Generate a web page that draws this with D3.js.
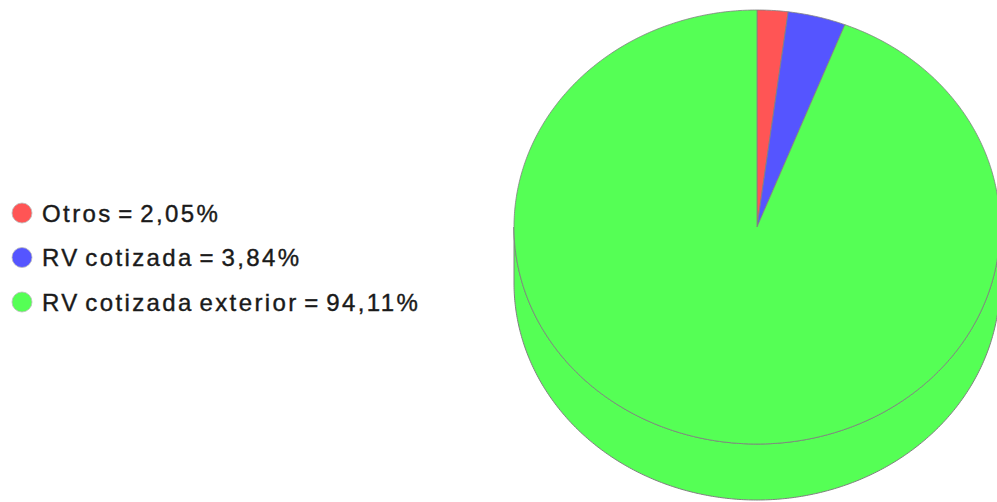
<!DOCTYPE html>
<html><head><meta charset="utf-8">
<script src="https://cdn.jsdelivr.net/npm/d3@7/dist/d3.min.js"></script>
<style>html,body{margin:0;padding:0;background:#fff;}</style>
</head><body>
<svg id="chart" width="997" height="502"></svg>
<script>
const categories = ["Otros", "RV cotizada", "RV cotizada exterior"];
const values = [2.05, 3.84, 94.11];
const valueLabels = ["2,05%", "3,84%", "94,11%"];
const colors = ["#FF5555", "#5555FF", "#55FF55"];

const svg = d3.select("#chart");
const cx = 757, cy = 227, rx = 243, ry = 217, depth = 56;
const outline = "#808080";

const pie = d3.pie().sort(null).value(d => d.v);
const arcs = pie(values.map((v, i) => ({v, i})));

const px = a => cx + rx * Math.sin(a);
const py = a => cy - ry * Math.cos(a);

function arcPoints(a0, a1, dy) {
  const n = Math.max(2, Math.ceil(Math.abs(a1 - a0) / 0.01));
  const pts = [];
  for (let k = 0; k <= n; k++) {
    const a = a0 + (a1 - a0) * k / n;
    pts.push([px(a), py(a) + dy]);
  }
  return pts;
}
const line = d3.line();

// sides (front half: angles between PI/2 and 3PI/2)
const gSide = svg.append("g");
arcs.forEach(d => {
  const s = Math.max(d.startAngle, Math.PI / 2), e = Math.min(d.endAngle, 3 * Math.PI / 2);
  if (e <= s) return;
  const top = arcPoints(s, e, 0);
  const bot = arcPoints(e, s, depth);
  gSide.append("path")
    .attr("d", line(top.concat(bot)) + "Z")
    .attr("fill", colors[d.data.i])
    .attr("stroke", outline).attr("stroke-width", 1);
});

// top slices
const gTop = svg.append("g");
arcs.forEach(d => {
  const pts = [[cx, cy]].concat(arcPoints(d.startAngle, d.endAngle, 0));
  gTop.append("path")
    .attr("d", line(pts) + "Z")
    .attr("fill", colors[d.data.i])
    .attr("stroke", outline).attr("stroke-width", 0.8)
    .attr("stroke-linejoin", "round");
});

// legend
const legendY = d3.scalePoint().domain(categories).range([213, 302]);
const gLeg = svg.append("g");
categories.forEach((c, i) => {
  const y = legendY(c);
  gLeg.append("circle").attr("cx", 22).attr("cy", y).attr("r", 10)
    .attr("fill", colors[i]).attr("stroke", "#bbb").attr("stroke-width", 0.8);
  gLeg.append("text").attr("x", 42).attr("y", y + 8.5)
    .attr("font-family", "Liberation Sans, Arial, sans-serif")
    .attr("font-size", 24).attr("letter-spacing", "2.4px").attr("word-spacing", "-3.5px")
    .attr("fill", "#1a1a1a").attr("stroke", "#1a1a1a").attr("stroke-width", 0.4)
    .text(c + " = " + valueLabels[i]);
});
</script>
</body></html>
